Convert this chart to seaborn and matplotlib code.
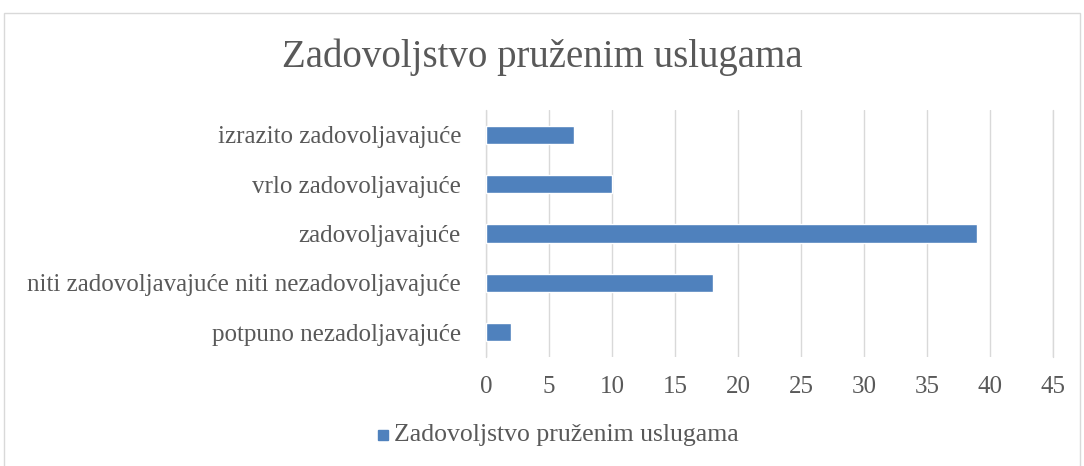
import matplotlib
matplotlib.use("Agg")
import matplotlib.pyplot as plt
import seaborn as sns
import pandas as pd
from matplotlib.patches import Rectangle

categories = [
    "izrazito zadovoljavajuće",
    "vrlo zadovoljavajuće",
    "zadovoljavajuće",
    "niti zadovoljavajuće niti nezadovoljavajuće",
    "potpuno nezadoljavajuće",
]
values = [7, 10, 39, 18, 2]
series_name = "Zadovoljstvo pruženim uslugama"
x_ticks = [0, 5, 10, 15, 20, 25, 30, 35, 40, 45]

sns.set_theme(style="white")
plt.rcParams["font.family"] = ["Liberation Serif", "DejaVu Serif"]

text_color = "#595959"
bar_color = "#4F81BD"

df = pd.DataFrame({"Kategorija": categories, "Broj": values})

fig = plt.figure(figsize=(10.84, 4.66), dpi=100)
ax = fig.add_axes([486 / 1084, 1 - 357 / 466, (1053 - 486) / 1084, (357 - 110) / 466])

sns.barplot(data=df, x="Broj", y="Kategorija", color=bar_color, width=0.37,
            saturation=1, ax=ax, order=categories)

ax.set_xlim(0, 45)
ax.set_xticks(x_ticks)
ax.set_xlabel("")
ax.set_ylabel("")
ax.grid(axis="x", color="#D9D9D9", linewidth=1)
ax.set_axisbelow(True)
for s in ax.spines.values():
    s.set_visible(False)
ax.axvline(0, color="#D9D9D9", linewidth=1, zorder=0, clip_on=False)
ax.axvline(45, color="#D9D9D9", linewidth=1, zorder=0, clip_on=False)
ax.tick_params(axis="both", length=0, colors=text_color, labelsize=18)
ax.tick_params(axis="x", pad=14)
ax.tick_params(axis="y", pad=18)

fig.text(0.5, 1 - 57 / 466, series_name, ha="center", va="center",
         fontsize=28, color=text_color)

# legend
fig.patches.append(Rectangle((378 / 1084, 1 - 440 / 466), 10 / 1084, 10 / 466,
                             transform=fig.transFigure, color=bar_color))
fig.text(394 / 1084, 1 - 435 / 466, series_name, ha="left", va="center",
         fontsize=18.5, color=text_color)

# chart border
fig.patches.append(Rectangle((4 / 1084, -0.05), 1076 / 1084, 1 - 13 / 466 + 0.05,
                             transform=fig.transFigure, fill=False,
                             edgecolor="#D9D9D9", linewidth=1))

fig.savefig("out.png", dpi=100)
